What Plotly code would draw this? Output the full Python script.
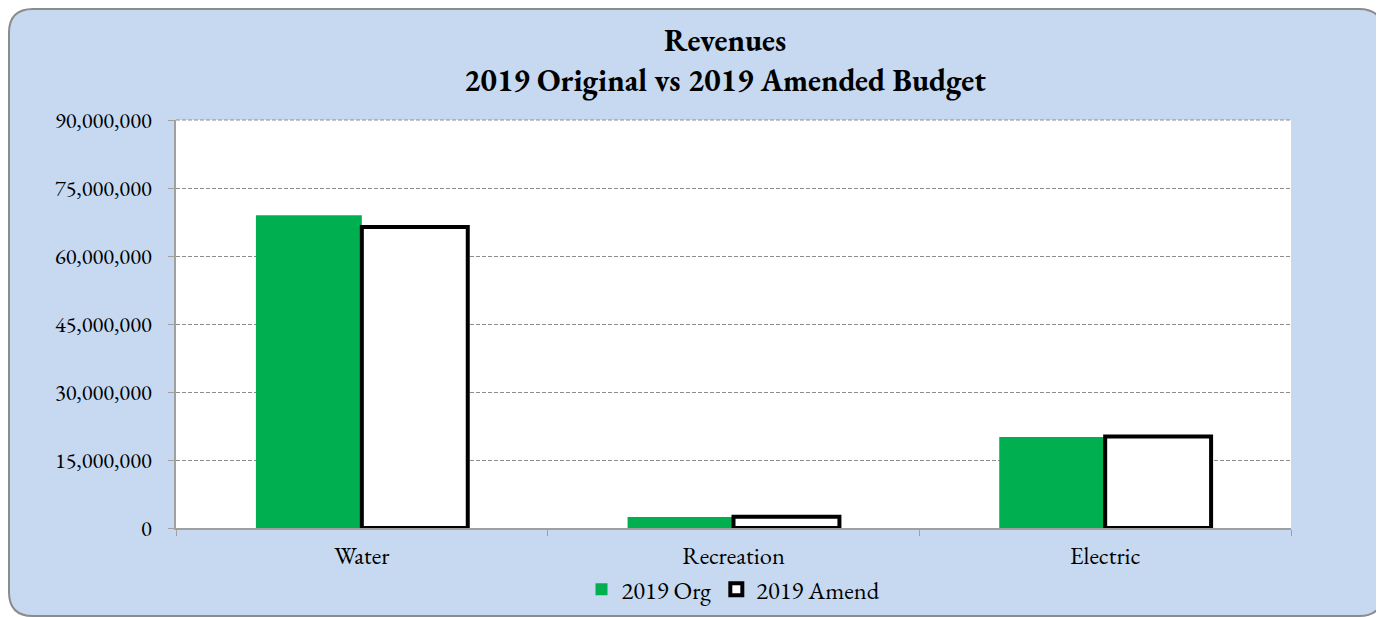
"""Revenues: 2019 original vs amended budget, grouped bar chart."""
import plotly.graph_objects as go

categories = ["Water", "Recreation", "Electric"]
org_2019 = [69_000_000, 2_400_000, 20_100_000]
amend_2019 = [66_400_000, 2_500_000, 20_200_000]
y_ticks = [0, 15_000_000, 30_000_000, 45_000_000, 60_000_000, 75_000_000, 90_000_000]
title_lines = ["Revenues", "2019 Original vs 2019 Amended Budget"]

FONT = "Garamond, 'EB Garamond', 'Liberation Serif', 'DejaVu Serif', serif"
# page has an 8px body margin, so the figure is drawn 8px smaller
W, H = 1376, 609
L, R, T, B = 168, 93, 112, 89
PW, PH = W - L - R, H - T - B


def px_to_paper(x, y):
    return (x - L) / PW, (H - B - y) / PH


def rounded_box(x0, y0, x1, y1, r):
    def p(x, y):
        return "%.5f,%.5f" % px_to_paper(x, y)
    parts = [
        "M " + p(x0 + r, y0),
        "L " + p(x1 - r, y0),
        "Q " + p(x1, y0) + " " + p(x1, y0 + r),
        "L " + p(x1, y1 - r),
        "Q " + p(x1, y1) + " " + p(x1 - r, y1),
        "L " + p(x0 + r, y1),
        "Q " + p(x0, y1) + " " + p(x0, y1 - r),
        "L " + p(x0, y0 + r),
        "Q " + p(x0, y0) + " " + p(x0 + r, y0),
    ]
    return " ".join(parts) + " Z"


fig = go.Figure()
fig.add_trace(go.Bar(
    x=categories, y=org_2019, name="2019 Org",
    marker=dict(color="#00B050", line=dict(width=0)),
))
fig.add_trace(go.Bar(
    x=categories, y=amend_2019, name="2019 Amend",
    marker=dict(color="#FFFFFF", line=dict(color="#000000", width=4)),
))

# light blue rounded panel + white plot area underneath the grid
fig.add_shape(
    type="path", xref="paper", yref="paper", layer="below",
    path=rounded_box(1, 1, 1375, 608, 24),
    fillcolor="#C6D9F1", line=dict(color="#8C8C8C", width=2),
)
fig.add_shape(
    type="rect", xref="paper", yref="paper", layer="below",
    x0=0, x1=1, y0=0, y1=1, fillcolor="#FFFFFF", line=dict(width=0),
)
# top gridline at 90,000,000 (plotly skips it at the range edge)
fig.add_shape(
    type="line", xref="paper", yref="paper", layer="below",
    x0=0, x1=1, y0=1, y1=1, line=dict(color="#8C8C8C", width=1, dash="4px,2px"),
)

fig.update_layout(
    width=W, height=H,
    margin=dict(l=L, r=R, t=T, b=B, autoexpand=False),
    paper_bgcolor="#FFFFFF",
    plot_bgcolor="#FFFFFF",
    font=dict(family=FONT, size=22, color="#000000"),
    title=dict(
        text="<b>" + "<br>".join(title_lines) + "</b>",
        xref="container", x=717 / W, xanchor="center",
        yref="container", y=1 - 42.5 / H, yanchor="middle",
        font=dict(family=FONT, size=31, color="#000000"),
    ),
    barmode="group",
    bargap=0.43,
    bargroupgap=0,
    showlegend=True,
    legend=dict(
        orientation="h", x=0.5, xanchor="center", y=-0.15, yanchor="middle",
        bgcolor="rgba(0,0,0,0)", font=dict(family=FONT, size=24.5),
        itemwidth=30, tracegroupgap=0,
    ),
    xaxis=dict(
        showgrid=False, showline=True, linecolor="#A0A0A0", linewidth=1.5,
        ticks="outside", tickson="boundaries", ticklen=6, tickcolor="#A0A0A0",
        tickfont=dict(family=FONT, size=24.5), ticklabelstandoff=5,
    ),
    yaxis=dict(
        range=[0, 90_000_000], tickvals=y_ticks, tickformat=",d",
        showline=True, linecolor="#A0A0A0", linewidth=1.5,
        ticks="outside", ticklen=6, tickcolor="#A0A0A0",
        showgrid=True, gridcolor="#8C8C8C", griddash="4px,2px", gridwidth=1,
        zeroline=False, tickfont=dict(family=FONT, size=22.5), ticklabelstandoff=12,
    ),
)

fig.write_html("out.html")
